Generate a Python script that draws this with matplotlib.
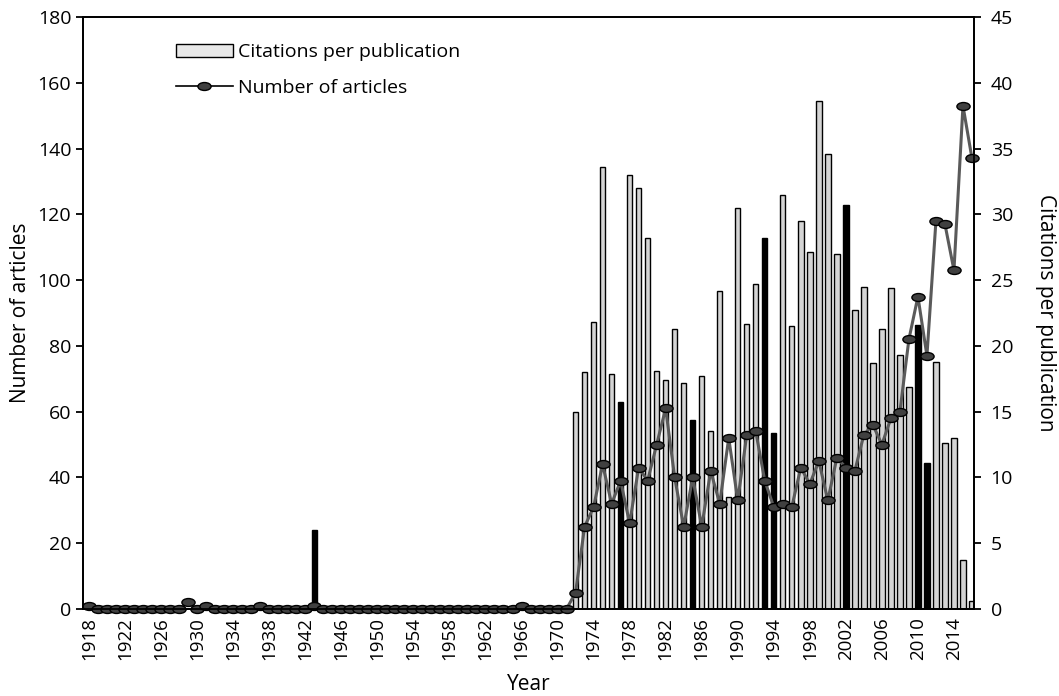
import matplotlib
matplotlib.use("Agg")
import matplotlib.pyplot as plt
from matplotlib.path import Path
import numpy as np

plt.rcParams['font.family'] = ['Open Sans', 'DejaVu Sans']

years = list(range(1918, 2017))

# number of articles per year (left axis)
articles = [1, 0, 0, 0, 0, 0, 0, 0, 0, 0, 0, 2, 0, 1, 0, 0, 0, 0, 0, 1,
            0, 0, 0, 0, 0, 1, 0, 0, 0, 0, 0, 0, 0, 0, 0, 0, 0, 0, 0, 0,
            0, 0, 0, 0, 0, 0, 0, 0, 1, 0, 0, 0, 0, 0,
            5, 25, 31, 44, 32, 39, 26, 43, 39, 50, 61, 40, 25, 40, 25,
            42, 32, 52, 33, 53, 54, 39, 31, 32, 31, 43, 38, 45, 33, 46,
            43, 42, 53, 56, 50, 58, 60, 82, 95, 77, 118, 117, 103, 153, 137]

# citations per publication (right axis)
citations = [0, 0, 0, 0, 0, 0, 0, 0, 0, 0, 0, 0, 0, 0, 0, 0, 0, 0, 0, 0,
             0, 0, 0, 0, 0, 6, 0, 0, 0, 0, 0, 0, 0, 0, 0, 0, 0, 0, 0, 0,
             0, 0, 0, 0, 0, 0, 0, 0, 0, 0, 0, 0, 0, 0,
             15, 18, 21.8, 33.6, 17.9, 15.7, 33, 32, 28.2, 18.1, 17.4, 21.3,
             17.2, 14.4, 17.7, 13.5, 24.2, 8.5, 30.5, 21.7, 24.7, 28.2, 13.4,
             31.5, 21.5, 29.5, 27.1, 38.6, 34.6, 27.0, 30.7, 22.7, 24.5, 18.7,
             21.3, 24.4, 19.3, 16.9, 21.6, 11.1, 18.8, 12.6, 13.0, 3.7, 0.6]

xtick_years = list(range(1918, 2015, 4))

# bars that render solid black in the original
dark_years = [1943, 1977, 1985, 1993, 1994, 2002, 2010, 2011]

fig = plt.figure(figsize=(10.59, 6.96), dpi=100)
ax = fig.add_axes([0.0784, 0.125, 0.8413, 0.8506])
ax2 = ax.twinx()

colors = ['black' if y in dark_years else '#d4d4d4' for y in years]
bars = ax2.bar(years, citations, width=0.6, color=colors, edgecolor='black',
               linewidth=1.0, label='Citations per publication')

circ = Path.unit_circle()
ellipse = Path(circ.vertices * np.array([1.0, 0.6]), circ.codes)
line, = ax.plot(years, articles, color='#5a5a5a', lw=2.2, marker=ellipse,
                markersize=9.5, markerfacecolor='#404040',
                markeredgecolor='black', markeredgewidth=1.0,
                label='Number of articles', clip_on=False)

ax.set_zorder(ax2.get_zorder() + 1)
ax.patch.set_visible(False)

ax.set_xlim(1917.33, 2016.22)
ax.set_ylim(0, 180)
ax2.set_ylim(0, 45)
ax.set_yticks(range(0, 181, 20))
ax2.set_yticks(range(0, 46, 5))
ax.set_xticks(xtick_years)
ax.set_xticklabels([str(y) for y in xtick_years], rotation=90)

for a in (ax, ax2):
    for s in a.spines.values():
        s.set_linewidth(1.3)
    a.tick_params(axis='y', length=5, width=1.3, labelsize=14, direction='out')
ax2.tick_params(axis='y', pad=7)
ax.tick_params(axis='x', length=0, labelsize=13.5, pad=6)

ax.set_xlabel('Year', fontsize=15, labelpad=10)
ax.set_ylabel('Number of articles', fontsize=15, labelpad=5)
ax2.set_ylabel('Citations per publication', fontsize=15, rotation=270, labelpad=31)

leg = ax.legend([bars, line], ['Citations per publication', 'Number of articles'],
                loc='upper left', bbox_to_anchor=(0.085, 0.985), frameon=False,
                fontsize=14, handlelength=2.9, labelspacing=0.9, handletextpad=0.3)
leg.legend_handles[1].set_color('black')
leg.legend_handles[1].set_linewidth(1.2)
leg.legend_handles[0].set_facecolor('#e8e8e8')

fig.savefig('out.png', dpi=100)
